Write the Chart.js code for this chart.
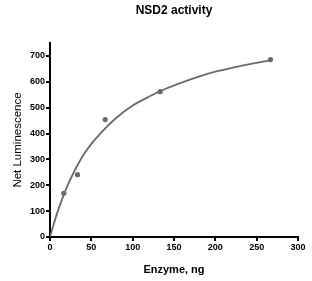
<!DOCTYPE html>
<html>
<head>
<meta charset="utf-8">
<script src="https://cdn.jsdelivr.net/npm/chart.js@4/dist/chart.umd.min.js"></script>
<style>
  html, body { margin: 0; padding: 0; background: #fff; }
  #wrap { width: 312px; height: 281px; }
</style>
</head>
<body>
<div id="wrap"><canvas id="myChart" width="312" height="281"></canvas></div>
<script>
// measured points (enzyme ng, net luminescence)
let enzyme = [16.7, 33.3, 66.7, 133.3, 266.7];
let lum = [169, 241, 454, 562, 686];

// fitted curve
let curveX = [0, 5, 10, 20, 30, 40, 50, 60, 80, 100, 120, 140, 160, 180, 200, 220, 240, 266.7];
let curveY = [0, 55, 105, 190, 258, 315, 360, 397, 460, 508, 543, 573, 598, 620, 639, 654, 667, 683];

let xTicks = [0, 50, 100, 150, 200, 250, 300];
let yTicks = [0, 100, 200, 300, 400, 500, 600, 700];

const grey = "#6a6a6a";
const fontFam = "'Liberation Sans', Arial, sans-serif";

var ctx = document.getElementById("myChart").getContext("2d");

var chart1 = new Chart(ctx, {
  type: "scatter",
  data: {
    datasets: [
      {
        label: "fit",
        data: curveX.map((v, i) => ({ x: v, y: curveY[i] })),
        showLine: true,
        borderColor: grey,
        borderWidth: 1.8,
        pointRadius: 0,
        tension: 0.4,
        cubicInterpolationMode: "monotone",
      },
      {
        label: "data",
        data: enzyme.map((v, i) => ({ x: v, y: lum[i] })),
        backgroundColor: grey,
        borderColor: grey,
        pointRadius: 2.6,
        borderWidth: 0,
      },
    ],
  },
  options: {
    responsive: false,
    animation: false,
    layout: { padding: { left: 0, right: 14, top: 0, bottom: 0 } },
    plugins: {
      legend: { display: false },
      tooltip: { enabled: false },
      title: {
        display: true,
        text: "NSD2 activity",
        fullSize: false,
        color: "#000",
        font: { family: fontFam, size: 12, weight: "bold" },
        padding: { top: 3, bottom: 25.6 },
      },
    },
    scales: {
      x: {
        type: "linear",
        min: 0,
        max: 300,
        afterFit: (s) => { s.height = 44; },
        afterBuildTicks: (s) => { s.ticks = xTicks.map(v => ({ value: v })); },
        border: { display: true, color: "#000", width: 2 },
        grid: { drawOnChartArea: false, drawTicks: true, tickLength: 4, color: "#000", lineWidth: 2 },
        ticks: {
          color: "#000",
          padding: 1,
          maxRotation: 0,
          font: { family: fontFam, size: 9, weight: "bold" },
        },
        title: {
          display: true,
          text: "Enzyme, ng",
          color: "#000",
          font: { family: fontFam, size: 11, weight: "bold" },
          padding: { top: 0, bottom: 4 },
        },
      },
      y: {
        type: "linear",
        min: 0,
        max: 750,
        afterFit: (s) => { s.width = 50; },
        afterBuildTicks: (s) => { s.ticks = yTicks.map(v => ({ value: v })); },
        border: { display: true, color: "#000", width: 2 },
        grid: { drawOnChartArea: false, drawTicks: true, tickLength: 4, color: "#000", lineWidth: 2 },
        ticks: {
          color: "#000",
          padding: 1,
          font: { family: fontFam, size: 9, weight: "bold" },
        },
        title: {
          display: true,
          text: "Net Luminescence",
          color: "#000",
          font: { family: fontFam, size: 11.5, weight: "normal" },
          padding: { top: 11, bottom: 0 },
        },
      },
    },
  },
});
</script>
</body>
</html>
